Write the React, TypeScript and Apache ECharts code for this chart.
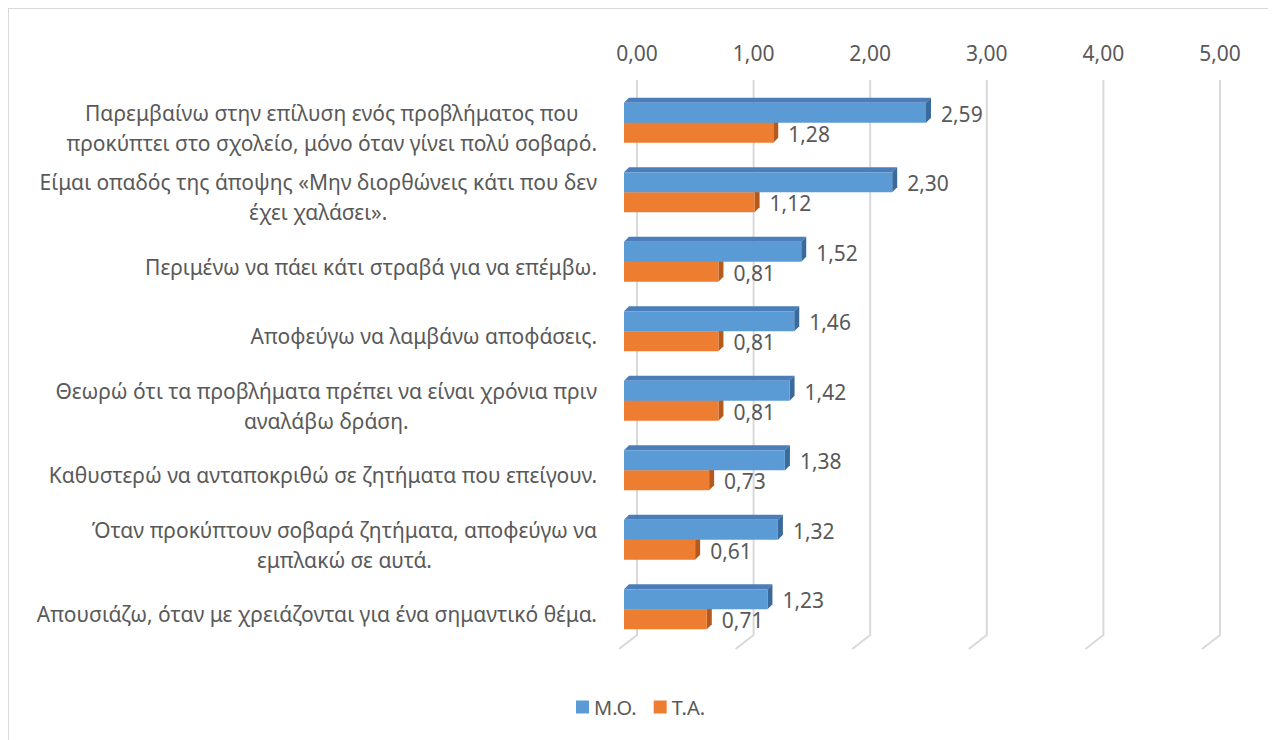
import React, { useEffect, useRef } from 'react';
import * as echarts from 'echarts';

const categories: string[] = [
  'Παρεμβαίνω στην επίλυση ενός προβλήματος που\nπροκύπτει στο σχολείο, μόνο όταν γίνει πολύ σοβαρό.',
  'Είμαι οπαδός της άποψης «Μην διορθώνεις κάτι που δεν\nέχει χαλάσει».',
  'Περιμένω να πάει κάτι στραβά για να επέμβω.',
  'Αποφεύγω να λαμβάνω αποφάσεις.',
  'Θεωρώ ότι τα προβλήματα πρέπει να είναι χρόνια πριν\nαναλάβω δράση.',
  'Καθυστερώ να ανταποκριθώ σε ζητήματα που επείγουν.',
  'Όταν προκύπτουν σοβαρά ζητήματα, αποφεύγω να\nεμπλακώ σε αυτά.',
  'Απουσιάζω, όταν με χρειάζονται για ένα σημαντικό θέμα.',
];
const seriesNames: string[] = ['M.O.', 'T.A.'];
const moValues: number[] = [2.59, 2.3, 1.52, 1.46, 1.42, 1.38, 1.32, 1.23];
const taValues: number[] = [1.28, 1.12, 0.81, 0.81, 0.81, 0.73, 0.61, 0.71];
const axisTicks: number[] = [0, 1, 2, 3, 4, 5];

const FONT = "'Noto Sans', sans-serif";
const TEXT = '#595959';
const GRID_COLOR = '#d9d9d9';
const DEPTH = 5;
const BAR_H = 20;

const fmt = (v: number) => v.toFixed(2).replace('.', ',');

type Palette = { front: string; top: string; side: string };
const blue: Palette = { front: '#5B9BD5', top: '#4A7DBA', side: '#3A6A9C' };
const orange: Palette = { front: '#ED7D31', top: '#C9651F', side: '#B5591D' };

function makeBarRenderer(position: 'upper' | 'lower', pal: Palette) {
  return (_params: any, api: any) => {
    const val = api.value(0);
    const idx = api.value(1);
    const start = api.coord([0, idx]);
    const end = api.coord([val, idx]);
    const x0 = start[0];
    const x1 = end[0];
    const y0 = position === 'upper' ? start[1] - BAR_H : start[1];
    const y1 = y0 + BAR_H;
    const d = DEPTH;
    return {
      type: 'group',
      children: [
        {
          type: 'polygon',
          shape: { points: [[x0, y0], [x0 + d, y0 - d], [x1 + d, y0 - d], [x1, y0]] },
          style: { fill: pal.top },
        },
        {
          type: 'polygon',
          shape: { points: [[x1, y0], [x1 + d, y0 - d], [x1 + d, y1 - d], [x1, y1]] },
          style: { fill: pal.side },
        },
        {
          type: 'rect',
          shape: { x: x0, y: y0, width: x1 - x0, height: BAR_H },
          style: { fill: pal.front },
        },
        {
          type: 'text',
          style: {
            text: fmt(val),
            x: x1 + d + 10,
            y: (y0 + y1) / 2 + 1,
            align: 'left',
            verticalAlign: 'middle',
            fill: TEXT,
            fontSize: 21,
            fontFamily: FONT,
          },
        },
      ],
    };
  };
}

function gridLineRenderer(_params: any, api: any) {
  const v = api.value(0);
  const top = api.coord([v, 1]);
  const bot = api.coord([v, 0]);
  return {
    type: 'polyline',
    shape: { points: [[top[0], top[1]], [bot[0], bot[1]], [bot[0] - 18, bot[1] + 14]] },
    style: { stroke: GRID_COLOR, lineWidth: 2, fill: 'none' },
  };
}

export default function App() {
  const ref = useRef<HTMLDivElement>(null);
  useEffect(() => {
    if (!ref.current) return;
    const chart = echarts.init(ref.current, undefined, { renderer: 'svg' });
    const option: any = {
      animation: false,
      backgroundColor: '#ffffff',
      textStyle: { fontFamily: FONT, color: TEXT },
      grid: [
        { left: 628, top: 71, width: 583, height: 555 },
        { left: 615, top: 79, width: 583, height: 556 },
      ],
      xAxis: [
        {
          gridIndex: 0,
          type: 'value',
          position: 'top',
          min: 0,
          max: 5,
          interval: 1,
          axisLine: { show: false },
          axisTick: { show: false },
          splitLine: { show: false },
          axisLabel: {
            formatter: (v: number) => fmt(v),
            fontSize: 21,
            fontFamily: FONT,
            color: TEXT,
            margin: 17,
          },
        },
        {
          gridIndex: 1,
          type: 'value',
          min: 0,
          max: 5,
          interval: 1,
          show: false,
        },
      ],
      yAxis: [
        { gridIndex: 0, type: 'value', min: 0, max: 1, show: false },
        {
          gridIndex: 1,
          type: 'category',
          inverse: true,
          data: categories,
          axisLine: { show: false },
          axisTick: { show: false },
          splitLine: { show: false },
          axisLabel: {
            margin: 27,
            align: 'right',
            padding: [10, 0, 0, 0],
            formatter: (v: string) =>
              v
                .split('\n')
                .map((l) => `{a|${l}}`)
                .join('\n'),
            rich: {
              a: {
                align: 'center',
                fontSize: 21,
                lineHeight: 30,
                fontFamily: FONT,
                color: TEXT,
              },
            },
          },
        },
      ],
      legend: {
        data: seriesNames,
        left: 567,
        top: 688,
        padding: 0,
        icon: 'rect',
        itemWidth: 13,
        itemHeight: 13,
        itemGap: 17,
        textStyle: { fontSize: 20, fontFamily: FONT, color: TEXT },
      },
      series: [
        {
          type: 'custom',
          name: 'grid',
          xAxisIndex: 0,
          yAxisIndex: 0,
          silent: true,
          clip: false,
          z: 1,
          data: axisTicks.map((v) => [v]),
          renderItem: gridLineRenderer,
        },
        {
          type: 'custom',
          name: seriesNames[0],
          xAxisIndex: 1,
          yAxisIndex: 1,
          clip: false,
          z: 4,
          itemStyle: { color: blue.front },
          encode: { x: 0, y: 1 },
          data: moValues.map((v, i) => [v, i]),
          renderItem: makeBarRenderer('upper', blue),
        },
        {
          type: 'custom',
          name: seriesNames[1],
          xAxisIndex: 1,
          yAxisIndex: 1,
          clip: false,
          z: 3,
          itemStyle: { color: orange.front },
          encode: { x: 0, y: 1 },
          data: taValues.map((v, i) => [v, i]),
          renderItem: makeBarRenderer('lower', orange),
        },
      ],
    };
    chart.setOption(option);
    return () => chart.dispose();
  }, []);
  return (
    <div
      ref={ref}
      style={{
        width: 1268,
        height: 760,
        border: '1px solid #d9d9d9',
        boxSizing: 'border-box',
      }}
    />
  );
}
